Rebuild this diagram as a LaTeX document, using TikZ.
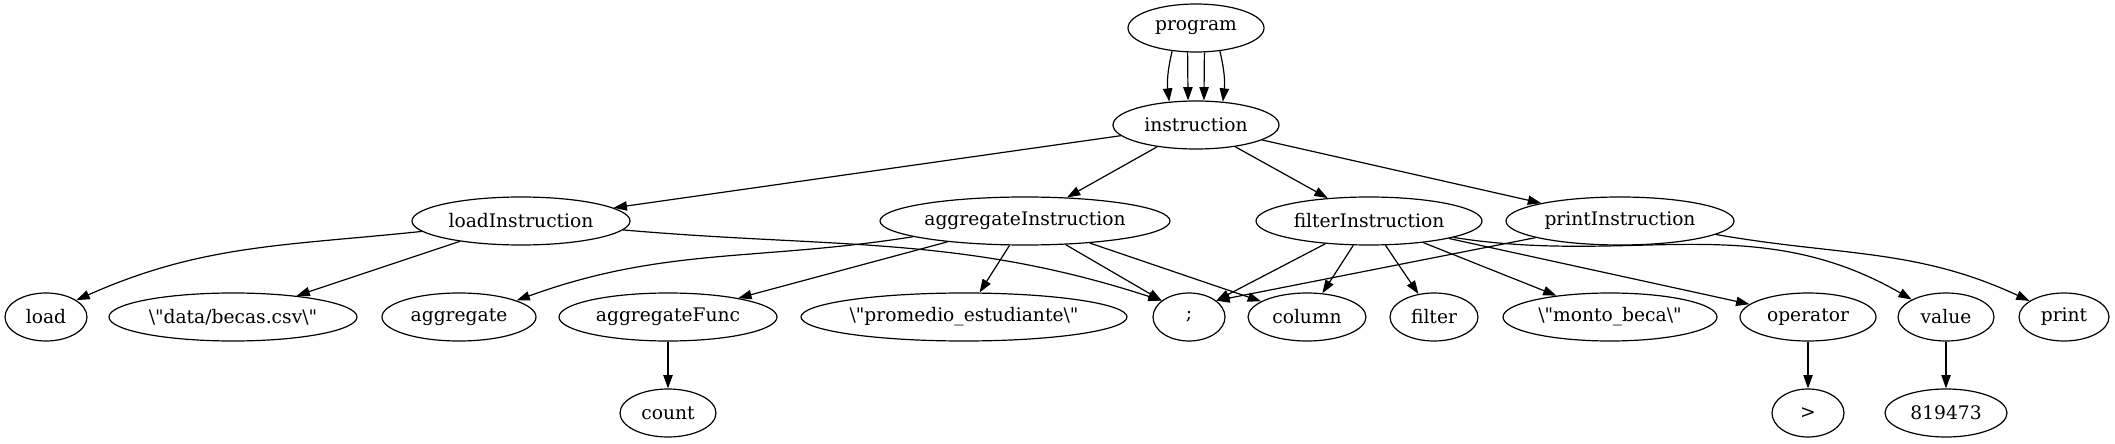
\documentclass[tikz,border=0pt]{standalone}
\usepackage{fontspec}
\setmainfont{DejaVu Serif}[Ligatures=TeXOff]
\usetikzlibrary{arrows.meta,shapes.geometric}
\newcommand{\gfont}{\fontsize{14}{16}\selectfont}
\newcommand{\bq}{\textbackslash"}
\tikzset{
  gnode/.style={ellipse,draw,line width=0.9pt,inner sep=0pt,minimum height=36pt},
  gedge/.style={line width=0.9pt,-{Triangle[length=10pt,width=7pt]}}
}
\begin{document}
\begin{tikzpicture}[x=0.75pt,y=0.75pt,font=\gfont]
\useasboundingbox (0,0) rectangle (2115,443);
% ranks
\node[gnode,minimum width=102pt] (prog) at (1196,415) {program};
\node[gnode,minimum width=124.5pt] (instr) at (1196,318) {instruction};
\node[gnode,minimum width=163.5pt] (loadI) at (521,222) {loadInstruction};
\node[gnode,minimum width=217.5pt] (aggI) at (1025,222) {aggregateInstruction};
\node[gnode,minimum width=169.5pt] (filtI) at (1369,222) {filterInstruction};
\node[gnode,minimum width=171pt] (printI) at (1620,222) {printInstruction};
\node[gnode,minimum width=61.5pt] (load) at (46,126) {load};
\node[gnode,minimum width=186pt] (path) at (233,126) {\bq data/becas.csv\bq};
\node[gnode,minimum width=115.5pt] (aggr) at (459,126) {aggregate};
\node[gnode,minimum width=163.5pt] (aggF) at (668,126) {aggregateFunc};
\node[gnode,minimum width=244.5pt] (prom) at (964,126) {\bq promedio\_estudiante\bq};
\node[gnode,minimum width=54pt] (semi) at (1189,126) {;};
\node[gnode,minimum width=88.5pt] (col) at (1307,126) {column};
\node[gnode,minimum width=66pt] (filt) at (1434,126) {filter};
\node[gnode,minimum width=160.5pt] (monto) at (1610,126) {\bq monto\_beca\bq};
\node[gnode,minimum width=102pt] (oper) at (1808,126) {operator};
\node[gnode,minimum width=72pt] (val) at (1946,126) {value};
\node[gnode,minimum width=67.5pt] (prnt) at (2064,126) {print};
\node[gnode,minimum width=72pt] (cnt) at (668,30) {count};
\node[gnode,minimum width=54pt] (gt) at (1808,30) {>};
\node[gnode,minimum width=91.5pt] (num) at (1946,30) {819473};
% edges
\draw[gedge] (prog.224) to[bend right=10] (instr.139);
\draw[gedge] (prog.251) -- (instr.108);
\draw[gedge] (prog.289) -- (instr.72);
\draw[gedge] (prog.316) to[bend left=10] (instr.41);
\draw[gedge] (instr) -- (loadI);
\draw[gedge] (instr) -- (aggI);
\draw[gedge] (instr) -- (filtI);
\draw[gedge] (instr) -- (printI);
\draw[gedge] (loadI.186) to[out=186,in=24] (load.29);
\draw[gedge] (loadI) -- (path);
\draw[gedge] (loadI.-5) to[out=-5,in=162] (semi.149);
\draw[gedge] (aggI.188) to[out=189,in=20] (aggr.16);
\draw[gedge] (aggI) -- (aggF);
\draw[gedge] (aggI) -- (prom);
\draw[gedge] (aggI) -- (semi.149);
\draw[gedge] (aggI) -- (col);
\draw[gedge] (filtI) -- (semi.31);
\draw[gedge] (filtI) -- (col);
\draw[gedge] (filtI) -- (filt);
\draw[gedge] (filtI) -- (monto);
\draw[gedge] (filtI) -- (oper);
\draw[gedge] (filtI.-11) to[out=-9,in=150] (val.153);
\draw[gedge] (printI) -- (semi.31);
\draw[gedge] (printI.-8) to[out=-10,in=155] (prnt.155);
\draw[gedge] (aggF) -- (cnt);
\draw[gedge] (oper) -- (gt);
\draw[gedge] (val) -- (num);
\end{tikzpicture}
\end{document}
